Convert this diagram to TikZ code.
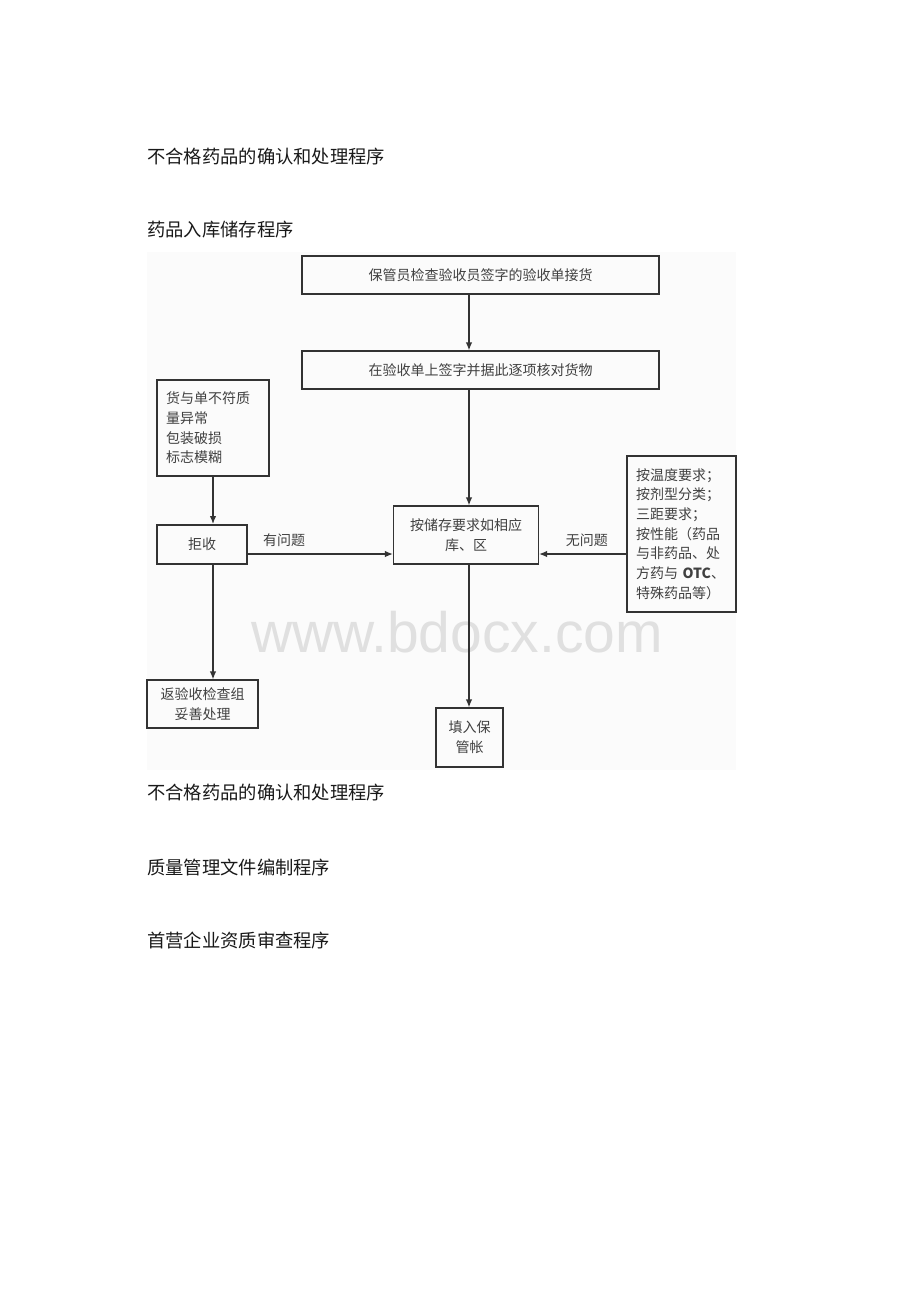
\documentclass[tikz,border=0pt]{standalone}
\usepackage{fontspec}
\newfontfamily\cjk{Noto Sans CJK SC}
\newfontfamily\wmfont{Liberation Sans}
\usetikzlibrary{arrows.meta}
\begin{document}
\begin{tikzpicture}[x=1pt,y=-1pt,
  box/.style={draw=black!80,line width=1.2pt,rectangle,inner sep=0pt,font=\cjk\fontsize{14}{19.7}\selectfont,text=black!75,align=center},
  thickbox/.style={box,line width=2pt},
  heading/.style={anchor=west,inner sep=0pt,font=\cjk\fontsize{18.3}{20}\selectfont,text=black!90},
  lbl/.style={inner sep=0pt,font=\cjk\fontsize{14}{16}\selectfont,text=black!75},
  arr/.style={draw=black!80,line width=1.3pt,-{Latex[length=8pt,width=6.5pt]}}]
\useasboundingbox (0,0) rectangle (920,1302);
\fill[black!1.5] (147,252) rectangle (736,770);
% watermark
\node[inner sep=0pt,font=\wmfont\fontsize{57}{60}\selectfont,text=black!12] (wm) at (457,632) {www.bdocx.com};
% headings
\node[heading] (h1) at (147,157) {不合格药品的确认和处理程序};
\node[heading] (h2) at (147,230) {药品入库储存程序};
\node[heading] (h3) at (147,793) {不合格药品的确认和处理程序};
\node[heading] (h4) at (147,867) {质量管理文件编制程序};
\node[heading] (h5) at (147,940) {首营企业资质审查程序};
% boxes
\node[box,minimum width=357pt,minimum height=38pt] (b1) at (480.5,275) {保管员检查验收员签字的验收单接货};
\node[box,minimum width=357pt,minimum height=38pt] (b2) at (480.5,370) {在验收单上签字并据此逐项核对货物};
\node[thickbox,minimum width=112pt,minimum height=96pt,text width=94pt,align=left] (b3) at (213,428) {货与单不符质\\量异常\\包装破损\\标志模糊};
\node[thickbox,minimum width=90pt,minimum height=39pt] (rej) at (202,544.5) {拒收};
\node[box,minimum width=145pt,minimum height=58pt] (st) at (466,535) {按储存要求如相应\\库、区};
\node[thickbox,minimum width=109pt,minimum height=156pt,text width=91pt,align=left] (rt) at (681.5,534) {按温度要求；\\按剂型分类；\\三距要求；\\按性能（药品\\与非药品、处\\方药与 \textbf{OTC}、\\特殊药品等）};
\node[box,minimum width=111pt,minimum height=48pt] (ret) at (202.5,704) {返验收检查组\\妥善处理};
\node[box,minimum width=67pt,minimum height=59pt] (acc) at (469.5,737.5) {填入保\\管帐};
% helper coordinates
\coordinate (ax) at (469,0);
\coordinate (ay) at (0,554);
% connectors
\draw[arr] (b1.south -| ax) -- (b2.north -| ax);
\draw[arr] (b2.south -| ax) -- (st.north -| ax);
\draw[arr] (b3.south) -- (rej.north -| b3.south);
\draw[arr] (rej.south -| b3.south) -- (ret.north -| b3.south);
\draw[arr] (rej.east |- ay) -- node[lbl,above=7pt,pos=0.25] (l1) {有问题} (st.west |- ay);
\draw[arr] (rt.west |- ay) -- node[lbl,above=7pt,pos=0.45] (l2) {无问题} (st.east |- ay);
\draw[arr] (st.south -| ax) -- (acc.north -| ax);
\end{tikzpicture}
\end{document}
